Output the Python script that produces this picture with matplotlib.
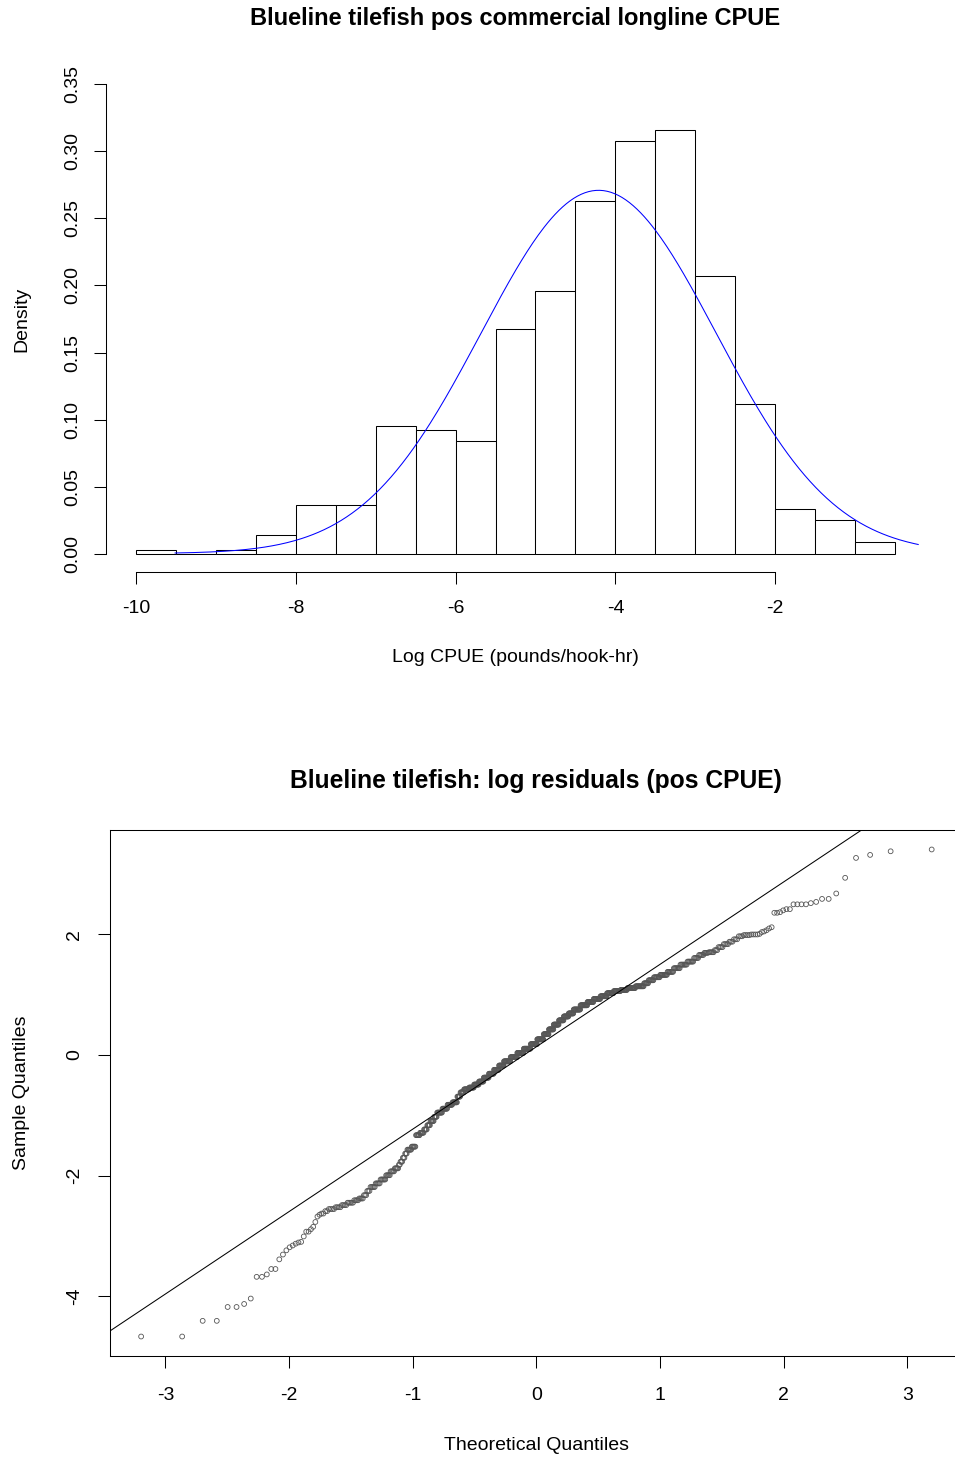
import numpy as np
import matplotlib
matplotlib.use("Agg")
import matplotlib.pyplot as plt
from statistics import NormalDist

# histogram of log CPUE: bin edges (width 0.5) and counts per bin
bin_edges = np.arange(-10.0, -0.49, 0.5)
bin_counts = [1, 0, 1, 5, 13, 13, 34, 33, 30, 60, 70, 94, 110, 113, 74, 40, 12, 9, 3]

# fitted normal curve
curve_mean = -4.21
curve_sd = 1.472
curve_from = -9.51
curve_to = -0.21

# qq plot: sorted log residuals, written as value levels with the number of points at each
resid_levels = [
    -4.67, -4.41, -4.18, -4.13, -4.04, -3.68, -3.64, -3.55, -3.39, -3.31,
    -3.24, -3.19, -3.16, -3.13, -3.11, -3.10, -3.01, -2.93, -2.89, -2.85,
    -2.77, -2.68, -2.65,
    -2.63, -2.59, -2.555, -2.525, -2.49, -2.45, -2.41, -2.38, -2.325, -2.255,
    -2.19, -2.13, -2.065, -1.995, -1.93, -1.88, -1.82, -1.77, -1.705, -1.635,
    -1.57, -1.52, -1.33, -1.29, -1.235, -1.165, -1.095, -1.025, -0.955, -0.89,
    -0.825, -0.785, -0.69, -0.62, -0.57, -0.54, -0.49, -0.44, -0.375, -0.31,
    -0.245, -0.175, -0.105, -0.035, 0.035, 0.105, 0.18, 0.26, 0.345, 0.425,
    0.505, 0.575, 0.64, 0.69, 0.755, 0.825, 0.88, 0.93, 0.975, 1.025,
    1.06, 1.08, 1.11, 1.14, 1.19, 1.24, 1.29, 1.33, 1.38, 1.44,
    1.50, 1.55, 1.61, 1.66, 1.695, 1.705, 1.74, 1.79, 1.84, 1.88,
    1.92, 1.97, 1.99, 2.00,
    2.01, 2.04, 2.05, 2.07, 2.10, 2.12, 2.36, 2.37, 2.40, 2.42,
    2.50, 2.52, 2.54, 2.59, 2.68, 2.94, 3.27, 3.32, 3.38, 3.41,
]
resid_counts = [
    2, 2, 2, 1, 1, 2, 1, 2, 1, 1,
    1, 1, 1, 1, 1, 1, 1, 2, 1, 1,
    1, 1, 1,
    2, 2, 4, 4, 4, 5, 4, 4, 3, 3,
    5, 5, 6, 5, 5, 5, 2, 3, 3, 3,
    6, 6, 6, 6, 5, 5, 6, 5, 9, 9,
    9, 9, 6, 7, 10, 10, 10, 10, 11, 11,
    11, 11, 15, 15, 15, 16, 15, 15, 12, 11,
    12, 11, 11, 11, 15, 15, 13, 14, 13, 13,
    13, 12, 14, 14, 7, 8, 9, 10, 8, 8,
    8, 7, 5, 5, 4, 5, 3, 4, 4, 3,
    3, 3, 4, 4,
    1, 1, 1, 1, 1, 1, 2, 1, 1, 2,
    4, 1, 1, 2, 1, 1, 1, 1, 1, 1,
]

W, H = 955, 1458
plt.rcParams['font.family'] = ['Liberation Sans', 'DejaVu Sans']
plt.rcParams['axes.unicode_minus'] = False
fig = plt.figure(figsize=(W / 100, H / 100), dpi=100)
lab_size = 14
main_size = 17
lw = 0.75


def px(x, y):
    return x / W, 1 - y / H


# ---- top: histogram ----
ax1 = fig.add_axes([105.6 / W, 1 - 572.3 / H, (925.4 - 105.6) / W, (572.3 - 65.7) / H])
mids = (bin_edges[:-1] + bin_edges[1:]) / 2
ax1.hist(mids, bins=bin_edges, weights=bin_counts, density=True,
         facecolor='white', edgecolor='black', linewidth=lw)
xs = np.linspace(curve_from, curve_to, 400)
pdf = np.array([NormalDist(curve_mean, curve_sd).pdf(v) for v in xs])
ax1.plot(xs, pdf, color='blue', linewidth=lw)

ax1.set_xlim(-10.38, -0.12)
ax1.set_ylim(-0.014, 0.364)
ax1.spines['top'].set_visible(False)
ax1.spines['right'].set_visible(False)
ax1.spines['bottom'].set_bounds(-10, -2)
ax1.spines['left'].set_bounds(0, 0.35)
ax1.set_xticks([-10, -8, -6, -4, -2])
ax1.set_xticklabels(['-10', '-8', '-6', '-4', '-2'])
yt = np.arange(0, 0.351, 0.05)
ax1.set_yticks(yt)
ax1.set_yticklabels(['%.2f' % v for v in yt])

# ---- bottom: normal qq plot ----
ax2 = fig.add_axes([109.5 / W, 1 - 1356 / H, 853.8 / W, 526 / H])
sample = np.repeat(resid_levels, resid_counts)
n = len(sample)
theo = np.array([NormalDist().inv_cdf((i - 0.5) / n) for i in range(1, n + 1)])
ax2.scatter(theo, sample, s=12, facecolors='none', edgecolors='#555555', linewidths=0.6)
ax2.margins(0.04)
q1, q3 = np.quantile(sample, [0.25, 0.75])
t1, t3 = NormalDist().inv_cdf(0.25), NormalDist().inv_cdf(0.75)
ax2.axline((t1, q1), (t3, q3), color='black', linewidth=lw)
ax2.set_xticks([-3, -2, -1, 0, 1, 2, 3])
ax2.set_yticks([-4, -2, 0, 2])

for ax in (ax1, ax2):
    for sp in ax.spines.values():
        sp.set_linewidth(lw)
    ax.tick_params(length=8.6, width=lw, labelsize=lab_size)
    for t in ax.get_yticklabels():
        t.set_rotation(90)
        t.set_va('center')
ax1.tick_params(axis='x', pad=11.5)
ax1.tick_params(axis='y', pad=9)
ax2.tick_params(axis='x', pad=14)
ax2.tick_params(axis='y', pad=10.5)

# titles and axis labels
fig.text(*px(515.5, 19), 'Blueline tilefish pos commercial longline CPUE',
         ha='center', va='center', fontsize=main_size, fontweight='bold')
fig.text(*px(515.5, 657), 'Log CPUE (pounds/hook-hr)', ha='center', va='center', fontsize=lab_size)
fig.text(*px(22, 319), 'Density', ha='center', va='center', rotation=90, fontsize=lab_size)

fig.text(*px(536, 781), 'Blueline tilefish: log residuals (pos CPUE)',
         ha='center', va='center', fontsize=main_size + 0.7, fontweight='bold')
fig.text(*px(536, 1446), 'Theoretical Quantiles', ha='center', va='center', fontsize=lab_size)
fig.text(*px(22, 1093), 'Sample Quantiles', ha='center', va='center', rotation=90, fontsize=lab_size)

fig.savefig('out.png', dpi=100)
